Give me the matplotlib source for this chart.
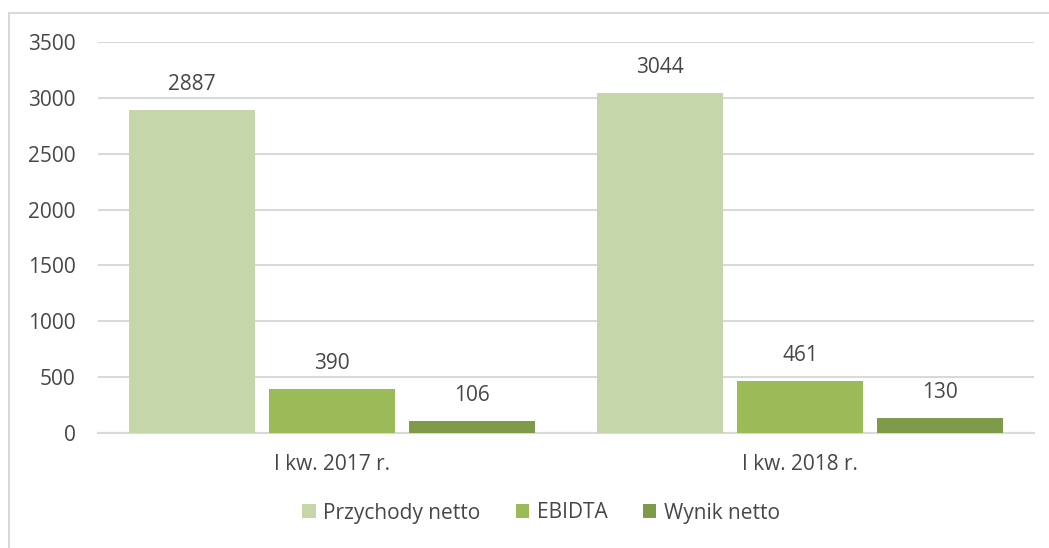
import numpy as np
import matplotlib.pyplot as plt
from matplotlib.patches import Rectangle

# dane
categories = ['I kw. 2017 r.', 'I kw. 2018 r.']
series_names = ['Przychody netto', 'EBIDTA', 'Wynik netto']
przychody = [2887, 3044]
ebidta = [390, 461]
wynik = [106, 130]
values = [przychody, ebidta, wynik]
colors = ['#C5D7AA', '#9BBB59', '#7F9A48']

plt.rcParams['font.family'] = ['Open Sans', 'DejaVu Sans']
txt = '#474747'

fig = plt.figure(figsize=(10.49, 5.48), dpi=100)
ax = fig.add_axes([98 / 1049, 1 - 433 / 548, 936 / 1049, 391 / 548])

# ramka wykresu (przycięta z prawej i z dołu)
fig.patches.append(Rectangle((9 / 1049, -0.1), 1.2, 1.1 - 13 / 548,
                             transform=fig.transFigure, fill=False,
                             edgecolor='#D9D9D9', linewidth=1.5, clip_on=False))

x = np.arange(len(categories))
width = 0.269
step = 0.299
for i, (name, vals, c) in enumerate(zip(series_names, values, colors)):
    pos = x + (i - 1) * step
    bars = ax.bar(pos, vals, width, color=c, label=name, zorder=3)
    for b, v in zip(bars, vals):
        ax.annotate(str(v), (b.get_x() + b.get_width() / 2, v),
                    xytext=(0, 11), textcoords='offset points',
                    ha='center', va='bottom', fontsize=15, color=txt)

ax.set_xlim(-0.5, 1.5)
ax.set_ylim(0, 3500)
ax.set_yticks(range(0, 3501, 500))
ax.set_xticks(x)
ax.set_xticklabels(categories)
ax.grid(axis='y', color='#D9D9D9', linewidth=1.5, zorder=0)
for s in ['top', 'right', 'left']:
    ax.spines[s].set_visible(False)
ax.spines['bottom'].set_color('#D9D9D9')
ax.spines['bottom'].set_linewidth(1.5)
ax.tick_params(axis='both', length=0, labelsize=15, colors=txt)
ax.tick_params(axis='y', pad=16)
ax.tick_params(axis='x', pad=15)

ax.legend(loc='center', bbox_to_anchor=(541 / 1049, 1 - 513 / 548), bbox_transform=fig.transFigure,
          ncol=3, frameon=False, fontsize=15, labelcolor=txt,
          handlelength=0.65, handleheight=0.65, handletextpad=0.35, columnspacing=1.7)

plt.savefig('out.png', dpi=100)
